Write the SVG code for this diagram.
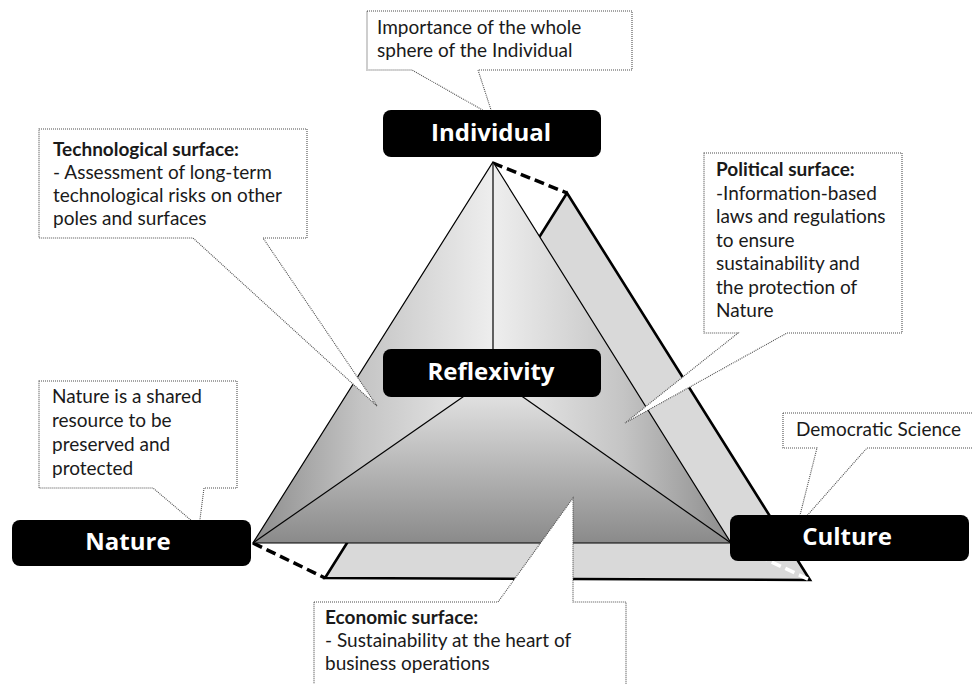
<svg xmlns="http://www.w3.org/2000/svg" width="972" height="684" viewBox="0 0 972 684">
  <defs>
    <linearGradient id="gLeft" gradientUnits="userSpaceOnUse" x1="253" y1="0" x2="493" y2="0">
      <stop offset="0" stop-color="#8c8c8c"/>
      <stop offset="0.45" stop-color="#c4c4c4"/>
      <stop offset="1" stop-color="#eeeeee"/>
    </linearGradient>
    <linearGradient id="gRight" gradientUnits="userSpaceOnUse" x1="493" y1="0" x2="731" y2="0">
      <stop offset="0" stop-color="#eeeeee"/>
      <stop offset="0.55" stop-color="#c4c4c4"/>
      <stop offset="1" stop-color="#8c8c8c"/>
    </linearGradient>
    <linearGradient id="gBottom" gradientUnits="userSpaceOnUse" x1="0" y1="376" x2="0" y2="543">
      <stop offset="0" stop-color="#ececec"/>
      <stop offset="1" stop-color="#8a8a8a"/>
    </linearGradient>
  </defs>
  <style>
    .callout { fill: #ffffff; stroke: #4d4d4d; stroke-width: 1.1; stroke-dasharray: 1 1; }
    .ctext { font-family: Lato, "Liberation Sans", sans-serif; font-size: 19px; fill: #1a1a1a; }
    .ctext .b { font-weight: bold; }
    .pole { fill: #000000; }
    .ptext { font-family: "Open Sans", "DejaVu Sans", sans-serif; font-weight: bold; font-size: 24px; fill: #ffffff; text-anchor: middle; }
    .edge { fill: none; stroke: #000000; stroke-width: 1.2; }
    .dash { fill: none; stroke: #000000; stroke-width: 3.5; stroke-dasharray: 10 5; }
    .dashw { fill: none; stroke: #ffffff; stroke-width: 3.5; stroke-dasharray: 10 5; }
  </style>
  <rect x="0" y="0" width="972" height="684" fill="#ffffff"/>

  <g id="back-triangle">
    <polygon points="567,193 810,580 325,578" fill="#d9d9d9" stroke="#000000" stroke-width="2.6" stroke-linejoin="miter"/>
  </g>

  <g id="connectors">
    <line class="dash" x1="493" y1="163" x2="567" y2="193"/>
    <line class="dash" x1="253" y1="543" x2="325" y2="578"/>
    <line class="dashw" x1="731" y1="543" x2="810" y2="580"/>
  </g>

  <g id="front-pyramid">
    <polygon points="493,162 253,543 493,376" fill="url(#gLeft)"/>
    <polygon points="493,162 731,543 493,376" fill="url(#gRight)"/>
    <polygon points="253,543 731,543 493,376" fill="url(#gBottom)"/>
    <polygon class="edge" points="493,162 731,543 253,543"/>
    <line class="edge" x1="493" y1="162" x2="493" y2="376" stroke-width="1"/>
    <line class="edge" x1="253" y1="543" x2="493" y2="376" stroke-width="1"/>
    <line class="edge" x1="731" y1="543" x2="493" y2="376" stroke-width="1"/>
  </g>

  <g id="note-individual">
    <polygon class="callout" points="367,11 632,11 632,70 478,70 493,116 412,70 367,70"/>
    <text class="ctext" x="377" y="34">Importance of the whole</text>
    <text class="ctext" x="377" y="57">sphere of the Individual</text>
  </g>

  <g id="note-technological">
    <polygon class="callout" points="39,129 307,129 307,238 263,238 377,406 193,238 39,238"/>
    <text class="ctext" x="53" y="156"><tspan class="b">Technological surface:</tspan></text>
    <text class="ctext" x="53" y="179">- Assessment of long-term</text>
    <text class="ctext" x="53" y="202">technological risks on other</text>
    <text class="ctext" x="53" y="225">poles and surfaces</text>
  </g>

  <g id="note-political">
    <polygon class="callout" points="704,153 902,153 902,333 787,333 625,423 738,333 704,333"/>
    <text class="ctext" x="716" y="176"><tspan class="b">Political surface:</tspan></text>
    <text class="ctext" x="716" y="200">-Information-based</text>
    <text class="ctext" x="716" y="223">laws and regulations</text>
    <text class="ctext" x="716" y="247">to ensure</text>
    <text class="ctext" x="716" y="270">sustainability and</text>
    <text class="ctext" x="716" y="294">the protection of</text>
    <text class="ctext" x="716" y="317">Nature</text>
  </g>

  <g id="note-nature">
    <polygon class="callout" points="39,381 237,381 237,488 204,488 199,527 153,488 39,488"/>
    <text class="ctext" x="52" y="403">Nature is a shared</text>
    <text class="ctext" x="52" y="427">resource to be</text>
    <text class="ctext" x="52" y="451">preserved and</text>
    <text class="ctext" x="52" y="475">protected</text>
  </g>

  <g id="note-culture">
    <polygon class="callout" points="783,413 975,413 975,448 867,448 797,527 817,448 783,448"/>
    <text class="ctext" x="796" y="436">Democratic Science</text>
  </g>

  <g id="note-economic">
    <polygon class="callout" points="314,602 498,602 573,498 573,602 626,602 626,690 314,690"/>
    <text class="ctext" x="325" y="624"><tspan class="b">Economic surface:</tspan></text>
    <text class="ctext" x="325" y="647">- Sustainability at the heart of</text>
    <text class="ctext" x="325" y="670">business operations</text>
  </g>

  <g id="individual">
    <rect class="pole" x="383" y="110" width="218" height="47" rx="8"/>
    <text class="ptext" x="491" y="141">Individual</text>
  </g>
  <g id="reflexivity">
    <rect class="pole" x="383" y="349" width="218" height="48" rx="8"/>
    <text class="ptext" x="491" y="380">Reflexivity</text>
  </g>
  <g id="nature">
    <rect class="pole" x="12" y="520" width="239" height="46" rx="8"/>
    <text class="ptext" x="128" y="550">Nature</text>
  </g>
  <g id="culture">
    <rect class="pole" x="730" y="515" width="239" height="46" rx="8"/>
    <text class="ptext" x="847" y="545">Culture</text>
  </g>
</svg>
